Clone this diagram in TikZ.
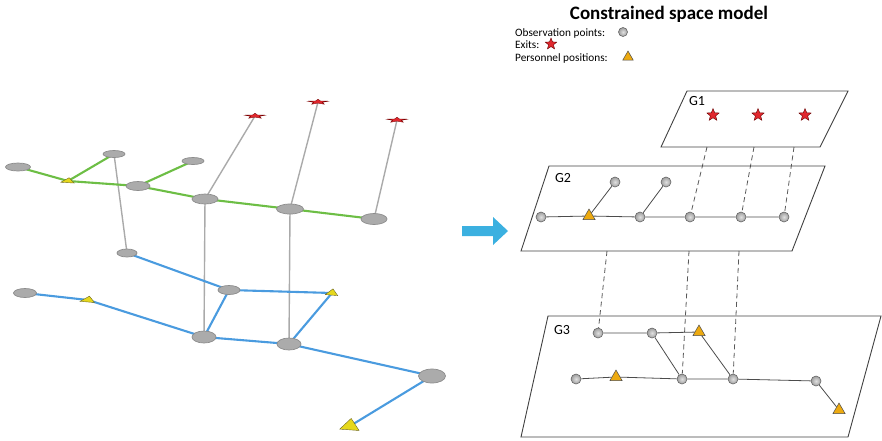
\documentclass[tikz,border=0pt]{standalone}
\usepackage{fontspec}
\setmainfont{Carlito}
\usetikzlibrary{shapes.geometric}
\pgfdeclarelayer{background}
\pgfsetlayers{background,main}

\definecolor{greenline}{HTML}{6DBE45}
\definecolor{blueline}{HTML}{4A9BDF}
\definecolor{postline}{HTML}{AAAAAA}
\definecolor{exitred}{HTML}{E0282E}
\definecolor{persyellow}{HTML}{E6D81C}
\definecolor{persorange}{HTML}{EDAA10}
\definecolor{arrowblue}{HTML}{3BB0E0}

\tikzset{
  % perspective view (left)
  obs/.style={ellipse, inner sep=0pt, fill=black!33, draw=black!45, line width=0.7pt},
  flatexit/.style={star, star points=5, star point ratio=2.4, inner sep=0pt,
    minimum size=10pt, fill=exitred, draw=red!45!black, line width=0.3pt,
    xscale=2.2, yscale=0.55, transform shape},
  flatpers/.style={regular polygon, regular polygon sides=3, inner sep=0pt,
    fill=persyellow, draw=olive!70!black, line width=0.4pt, transform shape},
  gedge/.style={greenline, line width=2.1pt},
  bedge/.style={blueline, line width=2.1pt},
  post/.style={postline, line width=1.4pt},
  % layered model (right)
  opt/.style={circle, inner sep=0pt, minimum size=10pt, shading=radial,
    inner color=black!12, outer color=black!38, draw=black!60, line width=0.6pt},
  exitpt/.style={star, star points=5, star point ratio=2.3, inner sep=0pt,
    minimum size=13pt, fill=exitred, draw=red!40!black, line width=0.4pt},
  perspt/.style={regular polygon, regular polygon sides=3, inner sep=0pt,
    minimum size=14pt, fill=persorange, draw=black!70, line width=0.5pt},
  plane/.style={draw=black!75, line width=0.9pt},
  link/.style={draw=black!70, line width=0.8pt},
  vlink/.style={draw=black!65, line width=0.8pt, dash pattern=on 5pt off 3.5pt},
  glabel/.style={font=\fontsize{14}{16}\selectfont, inner sep=0pt},
  legtext/.style={font=\fontsize{11.3}{13}\selectfont, anchor=west, inner sep=0pt}
}

\begin{document}
\begin{tikzpicture}[x=1pt, y=-1pt]
\useasboundingbox (0,0) rectangle (882,440);

% ---------- perspective network ----------
% upper floor
\node[obs, minimum width=25pt, minimum height=8pt] (a1) at (18,167) {};
\node[flatpers, minimum size=12pt, xscale=1.3, yscale=0.55, rotate=-8] (a2) at (68,181) {};
\node[obs, minimum width=22pt, minimum height=7pt] (a3) at (114,154) {};
\node[obs, minimum width=22pt, minimum height=7pt] (a4) at (193,161) {};
\node[obs, minimum width=24pt, minimum height=9pt] (a5) at (138,186) {};
\node[obs, minimum width=26pt, minimum height=10pt] (a6) at (205,199) {};
\node[obs, minimum width=27pt, minimum height=10pt] (a7) at (290,209) {};
\node[obs, minimum width=26pt, minimum height=11pt] (a8) at (374,219) {};
% exits
\node[flatexit] (e1) at (255,116) {};
\node[flatexit] (e2) at (318,102) {};
\node[flatexit] (e3) at (397,120) {};
% lower floor
\node[obs, minimum width=20pt, minimum height=8pt] (b1) at (127,253) {};
\node[obs, minimum width=23pt, minimum height=9pt] (b2) at (25,293) {};
\node[flatpers, minimum size=13pt, xscale=1.3, yscale=0.6, rotate=-10] (bt1) at (88,300) {};
\node[obs, minimum width=22pt, minimum height=9pt] (b3) at (229,290) {};
\node[flatpers, minimum size=12pt, xscale=1.2, yscale=0.7, rotate=-8] (bt2) at (332,293) {};
\node[obs, minimum width=24pt, minimum height=12pt] (b4) at (204,337) {};
\node[obs, minimum width=24pt, minimum height=12pt] (b5) at (289,344) {};
\node[obs, minimum width=27pt, minimum height=14pt] (b6) at (432,376) {};
\node[flatpers, minimum size=18pt, xscale=1.25, yscale=0.85, rotate=-6] (bt3) at (350,426) {};

\begin{pgfonlayer}{background}
  \draw[post] (e1.center) -- (a6.center);
  \draw[post] (e2.center) -- (a7.center);
  \draw[post] (e3.center) -- (a8.center);
  \draw[post] (a3.center) -- (b1.center);
  \draw[post] (a6.center) -- (b4.center);
  \draw[post] (a7.center) -- (b5.center);

  \draw[gedge] (a1.center) -- (a2.center);
  \draw[gedge] (a2.center) -- (a3.center);
  \draw[gedge] (a2.center) -- (a5.center);
  \draw[gedge] (a5.center) -- (a4.center);
  \draw[gedge] (a5.center) -- (a6.center);
  \draw[gedge] (a6.center) -- (a7.center);
  \draw[gedge] (a7.center) -- (a8.center);

  \draw[bedge] (b1.center) -- (b3.center);
  \draw[bedge] (b2.center) -- (bt1.center);
  \draw[bedge] (bt1.center) -- (b4.center);
  \draw[bedge] (b3.center) -- (b4.center);
  \draw[bedge] (b3.center) -- (bt2.center);
  \draw[bedge] (bt2.center) -- (b5.center);
  \draw[bedge] (b4.center) -- (b5.center);
  \draw[bedge] (b5.center) -- (b6.center);
  \draw[bedge] (b6.center) -- (bt3.center);
\end{pgfonlayer}

% ---------- arrow ----------
\fill[arrowblue] (462,226) -- (493,226) -- (493,217) -- (508,231)
  -- (493,245) -- (493,236) -- (462,236) -- cycle;

% ---------- title and legend ----------
\node[font=\fontsize{19}{22}\selectfont\bfseries, inner sep=0pt] (title) at (669,14) {Constrained space model};
\node[legtext] (lg1) at (515,33) {Observation points:};
\node[legtext] (lg2) at (515,45) {Exits:};
\node[legtext] (lg3) at (515,58) {Personnel positions:};
\node[opt, minimum size=9pt] (lgo) at (623,32) {};
\node[exitpt, minimum size=12pt] (lge) at (551,44) {};
\node[perspt, minimum size=12pt] (lgp) at (628,57) {};

% ---------- planes ----------
\draw[plane] (687,91) -- (848,91) -- (820,147) -- (661,147) -- cycle;
\draw[plane] (549,166) -- (825,166) -- (792,251) -- (521,251) -- cycle;
\draw[plane] (548,316) -- (881,316) -- (848,437) -- (521,437) -- cycle;
\node[glabel] (g1) at (697,101) {G1};
\node[glabel] (g2) at (563,178) {G2};
\node[glabel] (g3) at (562,330) {G3};

% G1: exits
\node[exitpt] (s1) at (713,115) {};
\node[exitpt] (s2) at (758,115) {};
\node[exitpt] (s3) at (805,115) {};

% G2: upper floor
\node[opt] (n1) at (541,217) {};
\node[perspt] (p1) at (589,216) {};
\node[opt] (n3) at (640,217) {};
\node[opt] (n4) at (690,217) {};
\node[opt] (n5) at (741,217) {};
\node[opt] (n6) at (784,217) {};
\node[opt] (n7) at (615,182) {};
\node[opt] (n8) at (666,182) {};

% G3: lower floor
\node[opt] (m1) at (598,333) {};
\node[opt] (m2) at (652,333) {};
\node[perspt] (q1) at (699,332) {};
\node[opt] (m3) at (576,379) {};
\node[perspt] (q2) at (616,377) {};
\node[opt] (m4) at (682,379) {};
\node[opt] (m5) at (733,379) {};
\node[opt] (m6) at (816,381) {};
\node[perspt] (q3) at (839,410) {};

% anchor points on plane edges for the vertical links
\coordinate (c1) at (707,147);
\coordinate (c2) at (754,147);
\coordinate (c3) at (794,147);
\coordinate (d1) at (607,251);
\coordinate (d2) at (689,251);
\coordinate (d3) at (739,251);

\begin{pgfonlayer}{background}
  \draw[link] (n1) -- (p1) -- (n3) -- (n4) -- (n5) -- (n6);
  \draw[link] (p1) -- (n7);
  \draw[link] (n3) -- (n8);

  \draw[link] (m1) -- (m2) -- (q1);
  \draw[link] (m2) -- (m4);
  \draw[link] (q1) -- (m5);
  \draw[link] (m3) -- (q2) -- (m4) -- (m5) -- (m6) -- (q3);

  \draw[vlink] (c1) -- (n4);
  \draw[vlink] (c2) -- (n5);
  \draw[vlink] (c3) -- (n6);
  \draw[vlink] (d1) -- (m1);
  \draw[vlink] (d2) -- (m4);
  \draw[vlink] (d3) -- (m5);
\end{pgfonlayer}
\end{tikzpicture}
\end{document}
